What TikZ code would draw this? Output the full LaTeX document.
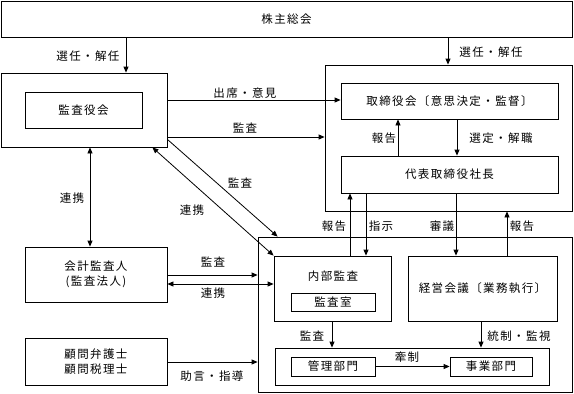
\documentclass[tikz,border=0pt]{standalone}
\usepackage{fontspec}
\newfontfamily\jp[LetterSpace=12]{Noto Sans CJK JP}
\usetikzlibrary{arrows.meta,calc}
\begin{document}
\begin{tikzpicture}[x=1pt,y=-1pt,
  txt/.style={font=\jp\fontsize{11.5}{15.5}\selectfont},
  box/.style={draw, line width=0.8pt, inner sep=0pt, align=center, txt},
  lbl/.style={inner sep=0pt, txt},
  tip/.tip={Triangle[length=6pt,width=5pt]},
  arr/.style={line width=0.8pt, -tip},
  darr/.style={line width=0.8pt, tip-tip}]
\useasboundingbox (0,0) rectangle (574,394);

% boxes
\node[box, minimum width=571pt, minimum height=36pt] (top) at (286.5,19) {株主総会};
\node[box, minimum width=166pt, minimum height=74pt] (kansaOuter) at (84,110) {};
\node[box, minimum width=117pt, minimum height=36pt] (kansa) at (83.5,110) {監査役会};
\node[box, minimum width=247pt, minimum height=146pt] (rightGroup) at (448.5,138) {};
\node[box, minimum width=217pt, minimum height=36pt] (board) at (449.5,101) {取締役会〔意思決定・監督〕};
\node[box, minimum width=217pt, minimum height=37pt] (ceo) at (449.5,174.5) {代表取締役社長};
\node[box, minimum width=314pt, minimum height=155pt] (lowerGroup) at (415,314.5) {};
\node[box, minimum width=117pt, minimum height=65pt] (naibu) at (332.5,288.5) {};
\node[lbl] (naibuT) at (333,276) {内部監査};
\node[box, minimum width=84pt, minimum height=18pt] (shitsu) at (333,302) {監査室};
\node[box, minimum width=149pt, minimum height=65pt] (keiei) at (482.5,288.5) {経営会議〔業務執行〕};
\node[box, minimum width=274pt, minimum height=37pt] (dept) at (412,366.5) {};
\node[box, minimum width=84pt, minimum height=19pt] (kanri) at (333,366.5) {管理部門};
\node[box, minimum width=82pt, minimum height=19pt] (jigyo) at (491,366.5) {事業部門};
\node[box, minimum width=142pt, minimum height=55pt] (kaikei) at (96,274.5) {会計監査人\\(監査法人)};
\node[box, minimum width=142pt, minimum height=47pt] (komon) at (96,361.5) {顧問弁護士\\顧問税理士};

% helper coordinates
\coordinate (xA) at (126,0);
\coordinate (xB) at (448,0);
\coordinate (xC) at (90,0);
\coordinate (xD) at (398,0);
\coordinate (xE) at (457,0);
\coordinate (xF) at (350,0);
\coordinate (xG) at (366,0);
\coordinate (xH) at (456,0);
\coordinate (xI) at (507,0);
\coordinate (xJ) at (332,0);
\coordinate (xK) at (481,0);
\coordinate (yA) at (0,100);
\coordinate (yB) at (0,137);
\coordinate (yC) at (0,275);
\coordinate (yD) at (0,284);
\coordinate (yE) at (0,362);
\coordinate (d1s) at ($(kansaOuter.south east)+(0,-8)$);
\coordinate (d1e) at ($(lowerGroup.north west)+(20,0)$);
\coordinate (d2s) at ($(kansaOuter.south east)+(-15,0)$);

% connectors
\draw[arr] (top.south -| xA) -- (kansaOuter.north -| xA);
\node[lbl] (l1) at (88,56) {選任・解任};
\draw[arr] (top.south -| xB) -- (rightGroup.north -| xB);
\node[lbl] (l2) at (491,52) {選任・解任};
\draw[arr] (kansaOuter.east |- yA) -- (board.west |- yA);
\node[lbl] (l3) at (245,93) {出席・意見};
\draw[arr] (kansaOuter.east |- yB) -- (rightGroup.west |- yB);
\node[lbl] (l4) at (245,128) {監査};
\draw[darr] (kansaOuter.south -| xC) -- (kaikei.north -| xC);
\node[lbl] (l5) at (72,198) {連携};
\draw[arr] (d1s) -- (d1e);
\node[lbl] (l6) at (240,183) {監査};
\draw[darr] (d2s) -- (naibu.north west);
\node[lbl] (l7) at (192,210) {連携};
\draw[arr] (ceo.north -| xD) -- (board.south -| xD);
\node[lbl] (l8) at (384,138) {報告};
\draw[arr] (board.south -| xE) -- (ceo.north -| xE);
\node[lbl] (l9) at (501,138) {選定・解職};
\draw[arr] (naibu.north -| xF) -- (ceo.south -| xF);
\node[lbl] (l10) at (334,226) {報告};
\draw[arr] (ceo.south -| xG) -- (naibu.north -| xG);
\node[lbl] (l11) at (381,226) {指示};
\draw[arr] (ceo.south -| xH) -- (keiei.north -| xH);
\node[lbl] (l12) at (442,226) {審議};
\draw[arr] (keiei.north -| xI) -- (rightGroup.south -| xI);
\node[lbl] (l13) at (522,226) {報告};
\draw[arr] (kaikei.east |- yC) -- (lowerGroup.west |- yC);
\node[lbl] (l14) at (213,262) {監査};
\draw[darr] (kaikei.east |- yD) -- (naibu.west |- yD);
\node[lbl] (l15) at (213,293) {連携};
\draw[arr] (komon.east |- yE) -- (lowerGroup.west |- yE);
\node[lbl] (l16) at (212,376) {助言・指導};
\draw[arr] (naibu.south -| xJ) -- (dept.north -| xJ);
\node[lbl] (l17) at (312,336) {監査};
\draw[arr] (keiei.south -| xK) -- (dept.north -| xK);
\node[lbl] (l18) at (519,336) {統制・監視};
\draw[arr] (kanri.east) -- (jigyo.west);
\node[lbl] (l19) at (407,357) {牽制};
\end{tikzpicture}
\end{document}
